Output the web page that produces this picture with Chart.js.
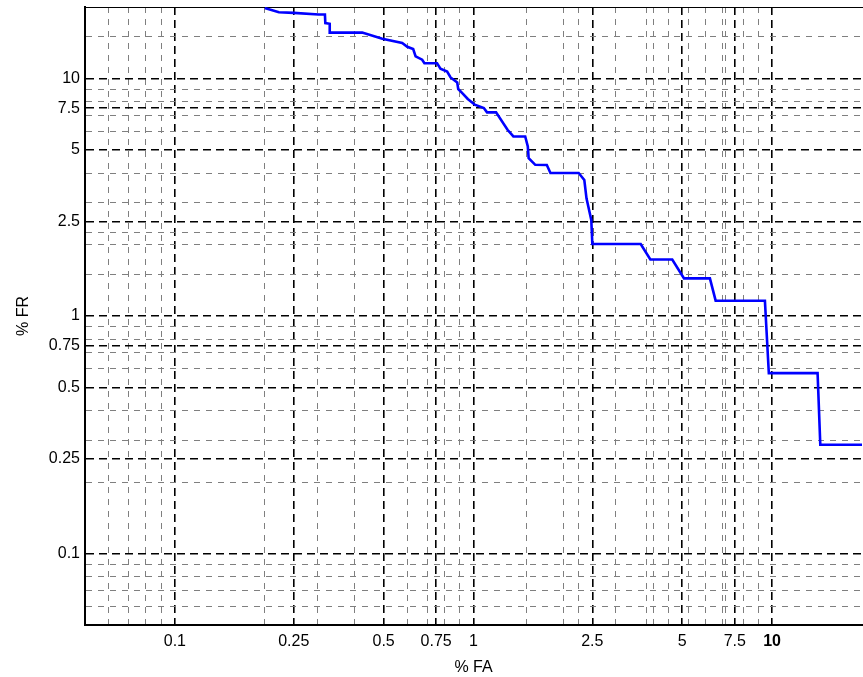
<!DOCTYPE html>
<html>
<head>
<meta charset="utf-8">
<title>DET curve</title>
<script src="https://cdn.jsdelivr.net/npm/chart.js@4"></script>
<style>
  html, body { margin: 0; padding: 0; background: #fff; overflow: hidden; }
  #wrap { width: 863px; height: 677px; }
</style>
</head>
<body>
<div id="wrap"><canvas id="det" width="863" height="677"></canvas></div>
<script>
// curve points
const faValues = [0.2, 0.223, 0.25, 0.303, 0.318, 0.319, 0.33, 0.33, 0.424, 0.495,
  0.577, 0.6, 0.628, 0.64, 0.673, 0.685, 0.755, 0.775, 0.816, 0.838,
  0.882, 0.889, 0.912, 0.957, 1.01, 1.083, 1.11, 1.19, 1.30, 1.36,
  1.49, 1.52, 1.53, 1.61, 1.76, 1.81, 2.25, 2.35, 2.39, 2.48,
  2.5, 3.63, 3.91, 4.63, 5.07, 6.19, 6.47, 9.46, 9.75, 14.2, 14.5, 20];
const frValues = [19.8, 19.0, 18.9, 18.6, 18.6, 17.1, 17.0, 15.6, 15.6, 14.7,
  14.1, 13.6, 13.3, 12.4, 12.0, 11.6, 11.6, 11.0, 10.7, 10.1,
  9.63, 9.03, 8.74, 8.2, 7.76, 7.51, 7.2, 7.2, 6.08, 5.7,
  5.7, 5.17, 4.62, 4.33, 4.32, 4.0, 4.0, 3.74, 3.13, 2.54,
  2.01, 2.01, 1.73, 1.73, 1.44, 1.44, 1.16, 1.16, 0.575, 0.575, 0.287, 0.287];

// labelled ticks (same on both axes) and the dashed grid positions
const tickLabels = [0.1, 0.25, 0.5, 0.75, 1, 2.5, 5, 7.5, 10];
const xGridValues = [0.06, 0.07, 0.08, 0.09, 0.1, 0.2, 0.25, 0.3, 0.4, 0.5, 0.6, 0.7, 0.75, 0.8, 0.9,
  1, 1.5, 2, 2.25, 2.5, 3, 3.8, 4, 4.5, 5, 5.25, 6, 6.8, 7, 7.5, 8, 9, 10];
const yGridValues = [0.06, 0.07, 0.08, 0.09, 0.1, 0.2, 0.25, 0.3, 0.4, 0.5, 0.6, 0.7, 0.75, 0.8, 0.9,
  1, 1.5, 2, 2.25, 2.5, 3, 4, 5, 6, 7, 7.5, 8, 9, 10, 15];
const axisMin = 0.05;
const axisMax = 20;

const isMajor = v => tickLabels.some(t => Math.abs(t - v) < 1e-9);
const font = { family: "'Liberation Sans', Arial, sans-serif", size: 16 };

function gridAxis(values, opts) {
  return Object.assign({
    type: 'logarithmic',
    min: axisMin,
    max: axisMax,
    afterBuildTicks: scale => { scale.ticks = values.map(v => ({ value: v })); },
    grid: {
      drawTicks: false,
      color: ctx => isMajor(ctx.tick.value) ? '#000' : '#7f7f7f',
      lineWidth: ctx => isMajor(ctx.tick.value) ? 1.6 : 1
    },
    border: {
      display: true,
      color: '#000',
      width: 2,
      dash: ctx => isMajor(ctx.tick.value) ? [8, 5] : [6, 6]
    }
  }, opts);
}

const ctx = document.getElementById('det').getContext('2d');
const chart = new Chart(ctx, {
  type: 'line',
  data: {
    datasets: [{
      data: faValues.map((x, i) => ({ x: x, y: frValues[i] })),
      borderColor: '#0000ff',
      borderWidth: 2.6,
      pointRadius: 0,
      tension: 0,
      fill: false
    }]
  },
  options: {
    responsive: false,
    animation: false,
    devicePixelRatio: 1,
    layout: { padding: { left: 0, right: 1, top: 0, bottom: 0 } },
    plugins: { legend: { display: false }, tooltip: { enabled: false } },
    scales: {
      x: gridAxis(xGridValues, {
        position: 'bottom',
        ticks: {
          color: '#000',
          padding: 7,
          maxRotation: 0,
          autoSkip: false,
          font: ctx => Object.assign({}, font, { weight: ctx.tick && ctx.tick.value === 10 ? 'bold' : 'normal' }),
          callback: v => isMajor(v) ? String(v) : ''
        },
        title: { display: true, text: '% FA', color: '#000', font: font, padding: { top: 0, bottom: 0 } },
        afterFit: s => { s.height = 52; s.paddingLeft = 0; s.paddingRight = 0; }
      }),
      xTop: {
        type: 'logarithmic',
        position: 'top',
        min: axisMin,
        max: axisMax,
        ticks: { display: false },
        grid: { display: true, drawOnChartArea: false, drawTicks: false },
        border: { display: true, color: '#000', width: 1 },
        afterFit: s => { s.height = 7; s.paddingLeft = 0; s.paddingRight = 0; }
      },
      y: gridAxis(yGridValues, {
        position: 'left',
        ticks: {
          color: '#000',
          padding: 5,
          autoSkip: false,
          font: font,
          callback: v => isMajor(v) ? String(v) : ''
        },
        title: { display: true, text: '% FR', color: '#000', font: font, padding: { top: 14, bottom: 0 } },
        afterFit: s => { s.width = 85; s.paddingTop = 0; s.paddingBottom = 0; }
      })
    }
  }
});
</script>
</body>
</html>
